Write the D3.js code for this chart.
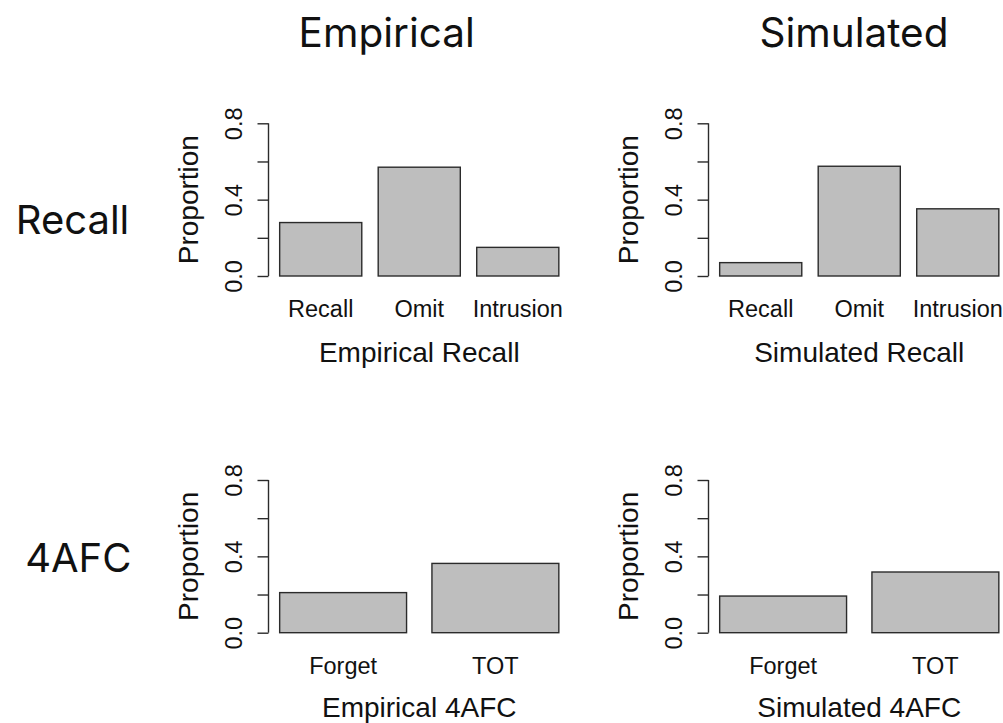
<!DOCTYPE html>
<html>
<head>
<meta charset="utf-8">
<script src="https://cdn.jsdelivr.net/npm/d3@7"></script>
<style>
  html, body { margin: 0; padding: 0; background: #fff; }
  svg { display: block; }
</style>
</head>
<body>
<svg id="chart" width="1003" height="723"></svg>
<script>
// ---------------- data ----------------
const columnTitles = ["Empirical", "Simulated"];
const rowTitles = ["Recall", "4AFC"];
const recallCategories = ["Recall", "Omit", "Intrusion"];
const afcCategories = ["Forget", "TOT"];
const empiricalRecall = [0.28, 0.57, 0.15];
const simulatedRecall = [0.07, 0.575, 0.352];
const empirical4AFC = [0.21, 0.363];
const simulated4AFC = [0.192, 0.318];
const yTickValues = [0, 0.2, 0.4, 0.6, 0.8];
const yTickLabels = ["0.0", "", "0.4", "", "0.8"];
const yLimit = [0, 0.8];
const yAxisTitle = "Proportion";
const xAxisTitles = [["Empirical Recall", "Simulated Recall"], ["Empirical 4AFC", "Simulated 4AFC"]];

// ---------------- layout ----------------
const svg = d3.select("#chart");
const colLeft = [268.5, 708.5];     // left edge of plot region (y axis)
const rowZero = [276, 632.7];       // pixel of y = 0
const xTitleY = [361.5, 716.8];     // baseline of x axis titles
const plotW = 301.5;
const yPix = 152.7;                 // pixels for 0 -> 0.8

const panels = [
  { row: 0, col: 0, cats: recallCategories, vals: empiricalRecall },
  { row: 0, col: 1, cats: recallCategories, vals: simulatedRecall },
  { row: 1, col: 0, cats: afcCategories, vals: empirical4AFC },
  { row: 1, col: 1, cats: afcCategories, vals: simulated4AFC }
];

const axisFont = "'Liberation Sans', Arial, sans-serif";
const titleFont = "Inter, 'Open Sans', sans-serif";

panels.forEach(p => {
  const g = svg.append("g");
  const n = p.vals.length;
  // R barplot units: bar i spans [0.2 + 1.2 i, 1.2 + 1.2 i]; xlim extended by 4%
  const lo = 0.2, hi = 1.2 * n, ext = 0.04 * (hi - lo);
  const x = d3.scaleLinear().domain([lo - ext, hi + ext]).range([colLeft[p.col], colLeft[p.col] + plotW]);
  const y = d3.scaleLinear().domain(yLimit).range([rowZero[p.row], rowZero[p.row] - yPix]);

  // bars
  g.selectAll("rect.bar").data(p.vals).join("rect")
    .attr("class", "bar")
    .attr("x", (d, i) => x(0.2 + 1.2 * i))
    .attr("width", (d, i) => x(1.2 + 1.2 * i) - x(0.2 + 1.2 * i))
    .attr("y", d => y(d))
    .attr("height", d => y(0) - y(d))
    .attr("fill", "#bebebe")
    .attr("stroke", "#2b2b2b")
    .attr("stroke-width", 1.4);

  // category labels
  g.selectAll("text.cat").data(p.cats).join("text")
    .attr("class", "cat")
    .attr("x", (d, i) => x(0.7 + 1.2 * i))
    .attr("y", rowZero[p.row] + 40.8)
    .attr("text-anchor", "middle")
    .attr("font-family", axisFont)
    .attr("font-size", 23.5)
    .attr("fill", "#111")
    .text(d => d);

  // y axis
  const axis = d3.axisLeft(y)
    .tickValues(yTickValues)
    .tickSize(11)
    .tickPadding(0)
    .tickFormat((d, i) => yTickLabels[i]);
  const ag = g.append("g")
    .attr("transform", `translate(${colLeft[p.col]},0)`)
    .call(axis);
  ag.select(".domain").attr("d", `M0,${y(0)}V${y(0.8)}`).attr("stroke", "#2b2b2b").attr("stroke-width", 1.4);
  ag.selectAll(".tick line").attr("stroke", "#2b2b2b").attr("stroke-width", 1.4);
  ag.selectAll(".tick text")
    .attr("font-family", axisFont)
    .attr("font-size", 23.5)
    .attr("fill", "#111")
    .attr("text-anchor", "middle")
    .attr("dy", null)
    .attr("x", null)
    .attr("transform", "translate(-27,0) rotate(-90)");

  // y axis title
  g.append("text")
    .attr("transform", `translate(${colLeft[p.col] - 70.5},${y(0.4)}) rotate(-90)`)
    .attr("text-anchor", "middle")
    .attr("font-family", axisFont)
    .attr("font-size", 28)
    .attr("fill", "#111")
    .text(yAxisTitle);

  // x axis title
  g.append("text")
    .attr("x", colLeft[p.col] + plotW / 2)
    .attr("y", xTitleY[p.row])
    .attr("text-anchor", "middle")
    .attr("font-family", axisFont)
    .attr("font-size", 28)
    .attr("fill", "#111")
    .text(xAxisTitles[p.row][p.col]);
});

// column titles
const colCenters = [386.7, 854];
svg.selectAll("text.coltitle").data(columnTitles).join("text")
  .attr("class", "coltitle")
  .attr("x", (d, i) => colCenters[i])
  .attr("y", 46.7)
  .attr("text-anchor", "middle")
  .attr("font-family", titleFont)
  .attr("font-size", 40.5)
  .attr("fill", "#111")
  .text(d => d);

// row titles
const rowCenters = [[72.5, 234.3], [78.3, 572.3]];
svg.selectAll("text.rowtitle").data(rowTitles).join("text")
  .attr("class", "rowtitle")
  .attr("x", (d, i) => rowCenters[i][0])
  .attr("y", (d, i) => rowCenters[i][1])
  .attr("text-anchor", "middle")
  .attr("font-family", titleFont)
  .attr("font-size", 40)
  .attr("fill", "#111")
  .text(d => d);
</script>
</body>
</html>
